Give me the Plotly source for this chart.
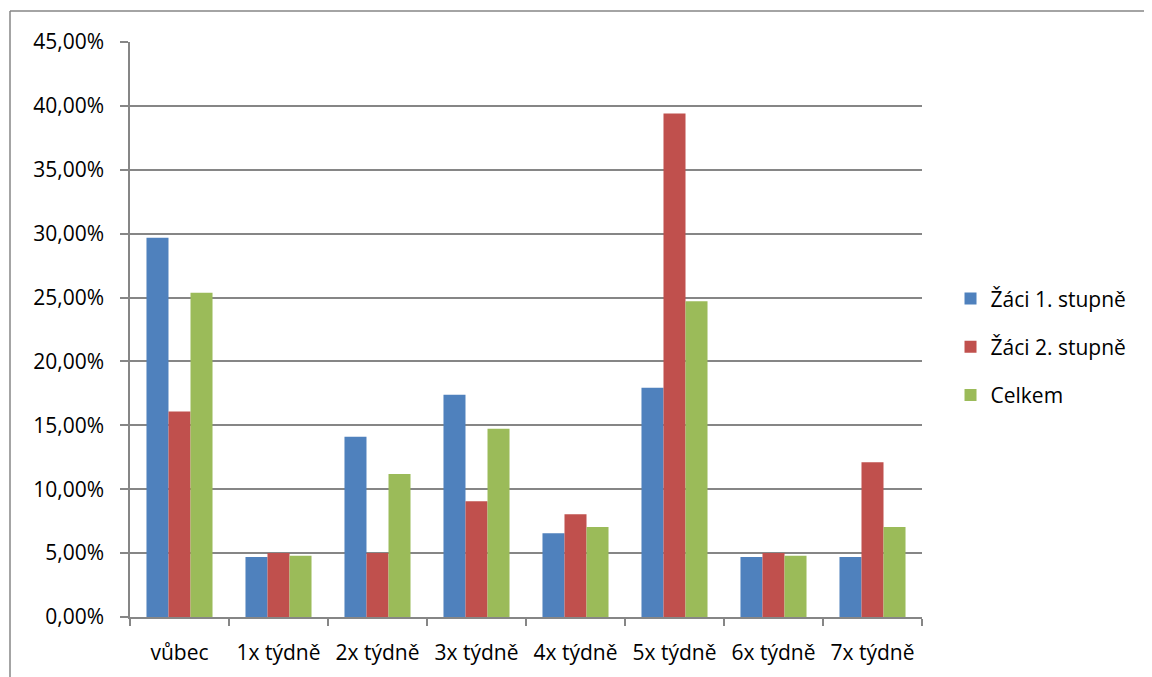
import plotly.graph_objects as go

# frequency categories and shares per group (fractions)
categories = ["vůbec", "1x týdně", "2x týdně", "3x týdně",
              "4x týdně", "5x týdně", "6x týdně", "7x týdně"]
zaci_1 = [0.2969, 0.0469, 0.1411, 0.1740, 0.0655, 0.1794, 0.0469, 0.0469]
zaci_2 = [0.1609, 0.0500, 0.0500, 0.0906, 0.0804, 0.3941, 0.0500, 0.1212]
celkem = [0.2537, 0.0479, 0.1120, 0.1474, 0.0704, 0.2472, 0.0479, 0.0704]

series_names = ["Žáci 1. stupně", "Žáci 2. stupně", "Celkem"]
series_values = [zaci_1, zaci_2, celkem]
colors = ["#4F81BD", "#C0504D", "#9BBB59"]

grey = "#868686"
font = "Open Sans"

fig = go.Figure()
for name, vals, col in zip(series_names, series_values, colors):
    fig.add_trace(go.Bar(x=categories, y=vals, name=name,
                         marker=dict(color=col, line=dict(width=0)),
                         legendgroup=name))

# page has an 8px body margin, so margins are shifted to compensate
fig.update_layout(
    width=1152, height=677,
    margin=dict(l=122, r=238, t=34, b=68),
    paper_bgcolor="white", plot_bgcolor="white",
    barmode="group", bargap=0.333, bargroupgap=0,
    separators=",.",
    font=dict(family=font, size=21, color="black"),
    showlegend=True,
    legend=dict(x=1.036, xanchor="left", y=0.47, yanchor="middle",
                font=dict(size=21), tracegroupgap=18,
                itemwidth=30, bgcolor="rgba(0,0,0,0)"),
)
fig.update_yaxes(range=[0, 0.45], dtick=0.05, tickformat=".2%",
                 showgrid=True, gridcolor=grey, gridwidth=1.5,
                 showline=True, linecolor=grey, linewidth=1.5,
                 ticks="outside", ticklen=8, tickcolor=grey, tickwidth=1.5,
                 ticklabelstandoff=12,
                 zeroline=False, fixedrange=True)
fig.update_xaxes(showline=True, linecolor=grey, linewidth=1.5,
                 ticks="outside", tickson="boundaries", ticklen=7,
                 tickcolor=grey, tickwidth=1.5, showgrid=False,
                 ticklabelstandoff=16,
                 fixedrange=True)

# outer chart border (only left and top edges are visible)
bx = (10 - 130) / 792
by = (617 - 11) / 575
fig.add_shape(type="line", xref="paper", yref="paper",
              x0=bx, x1=bx, y0=-0.3, y1=by,
              line=dict(color=grey, width=1.5), layer="below")
fig.add_shape(type="line", xref="paper", yref="paper",
              x0=bx, x1=1.5, y0=by, y1=by,
              line=dict(color=grey, width=1.5), layer="below")

fig.write_html("out.html")
